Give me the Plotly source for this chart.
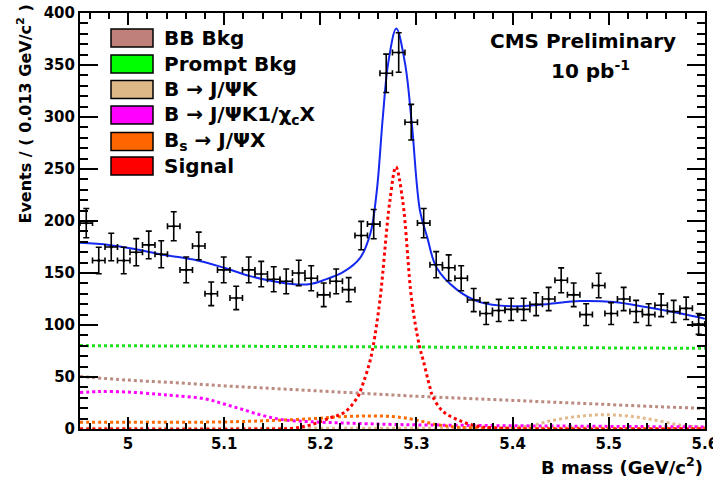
import numpy as np
import plotly.graph_objects as go

# binned data (bin width 0.013 GeV/c2)
bin_centers = [4.9565 + 0.013 * i for i in range(50)]
counts = [198, 162, 175, 162, 170, 177, 168, 195, 153, 176,
          130, 153, 126, 153, 149, 144, 142, 150, 145, 129,
          142, 134, 186, 197, 342, 362, 295, 198, 158, 155,
          145, 124, 111, 114, 115, 115, 120, 125, 143, 129,
          110, 138, 111, 125, 113, 110, 119, 113, 116, 101]

# fit curves
total_x = [4.95, 4.98, 5.007, 5.033, 5.068, 5.10, 5.127, 5.151, 5.175, 5.19,
           5.203, 5.224, 5.241, 5.252, 5.2586, 5.265, 5.2706, 5.279, 5.288, 5.295,
           5.3036, 5.311, 5.321, 5.342, 5.366, 5.40, 5.435, 5.47, 5.505, 5.54,
           5.575, 5.60]
total_y = [179, 177, 173, 168, 163, 155, 147, 142, 139, 139.5,
           143, 151, 164, 188, 228, 300, 352, 385, 352, 295,
           210, 185, 155, 134, 122, 118, 120, 123, 122, 117,
           111, 106]

prompt_x = [4.95, 5.6]
prompt_y = [80.2, 77.6]

bb_x = [4.95, 5.0, 5.05, 5.1, 5.15, 5.2, 5.25, 5.3, 5.35, 5.4, 5.45, 5.5, 5.55, 5.6]
bb_y = [50.5, 47, 44.5, 41.5, 39, 36.5, 34, 31.5, 29.5, 27.5, 25.5, 23.5, 21.5, 19.8]

k1_x = [4.95, 4.97, 5.0, 5.03, 5.05, 5.08, 5.10, 5.12, 5.14, 5.16,
        5.19, 5.23, 5.28, 5.35, 5.45, 5.6]
k1_y = [35, 36, 35.5, 33.5, 32, 29, 24, 18.5, 13, 9,
        7, 5.6, 4.3, 3.5, 2.8, 2]

bs_x = [4.95, 5.0, 5.1, 5.15, 5.19, 5.22, 5.25, 5.275, 5.293, 5.305,
        5.317, 5.33, 5.342, 5.37, 5.45, 5.6]
bs_y = [6.6, 6.6, 6.8, 8.2, 9.8, 11.8, 12.5, 12, 9.8, 7.5,
        5, 3, 1.8, 1, 0.7, 0.5]

jpsik_x = [4.95, 5.3, 5.38, 5.40, 5.42, 5.44, 5.467, 5.494, 5.522, 5.55, 5.577, 5.6]
jpsik_y = [0.8, 0.8, 1, 1.8, 3.4, 8, 12, 13.7, 12.3, 8.2, 3.4, 1.5]

sig_x = [4.95, 5.14, 5.17, 5.19, 5.211, 5.225, 5.239, 5.243, 5.251, 5.255,
         5.262, 5.2724, 5.2786, 5.2856, 5.295, 5.303, 5.307, 5.314, 5.317, 5.3275,
         5.345, 5.362, 5.38, 5.42, 5.6]
sig_y = [0, 0, 0.5, 4, 11, 16, 31, 40, 63, 80,
         124, 220, 252, 220, 124, 80, 66, 40, 31, 17,
         8, 3, 1, 0, 0]

legend_names = ['BB Bkg', 'Prompt Bkg', 'B \u2192 J/\u03a8K',
                'B \u2192 J/\u03a8K1/\u03c7<sub>c</sub>X',
                'B<sub>s</sub> \u2192 J/\u03a8X', 'Signal']
legend_colors = ['#c0807a', '#00ff00', '#deb887', '#ff00ff', '#ff6600', '#ff0000']

font = dict(family='DejaVu Sans', color='black', weight='bold')

fig = go.Figure()

components = [
    (prompt_x, prompt_y, '#1ee01e'),
    (bb_x, bb_y, '#bb8a80'),
    (jpsik_x, jpsik_y, '#e2b98c'),
    (k1_x, k1_y, '#ff00ff'),
    (bs_x, bs_y, '#ff6a00'),
    (sig_x, sig_y, '#ff0000'),
]
for cx, cy, col in components:
    fig.add_trace(go.Scatter(x=cx, y=cy, mode='lines', line_shape='spline',
                             line=dict(color=col, width=3, dash='dot')))

fig.add_trace(go.Scatter(x=total_x, y=total_y, mode='lines', line_shape='spline',
                         line=dict(color='#1428f0', width=2)))

fig.add_trace(go.Scatter(
    x=bin_centers, y=counts, mode='markers',
    marker=dict(color='black', size=3),
    error_y=dict(type='data', array=np.sqrt(counts), color='black', thickness=1.6, width=3),
    error_x=dict(type='constant', value=0.0065, color='black', thickness=1.6, width=3),
))

# page pixel -> paper coords (plot area spans x 80..705, y 13..429)
def py(p):
    return (429 - p) / 416

def px(p):
    return (p - 80) / 625

# legend boxes drawn by hand, ROOT style
rows = [38, 64, 89.5, 115, 141.5, 166]
for name, col, r in zip(legend_names, legend_colors, rows):
    fig.add_shape(type='rect', xref='paper', yref='paper',
                  x0=px(111), x1=px(153), y0=py(r + 9), y1=py(r - 9),
                  fillcolor=col, line=dict(color='black', width=1.5))
    fig.add_annotation(xref='paper', yref='paper', x=px(162), y=py(r),
                       text=name, showarrow=False, xanchor='left', yanchor='middle',
                       font=dict(font, size=20))

fig.add_annotation(xref='paper', yref='paper', x=px(583), y=py(41), text='CMS Preliminary',
                   showarrow=False, xanchor='center', yanchor='middle', font=dict(font, size=20))
fig.add_annotation(xref='paper', yref='paper', x=px(590), y=py(70), text='10 pb<sup>-1</sup>',
                   showarrow=False, xanchor='center', yanchor='middle', font=dict(font, size=20))

fig.add_annotation(xref='paper', yref='paper', x=1.0, y=py(466), text='B mass (GeV/c<sup>2</sup>)',
                   showarrow=False, xanchor='right', yanchor='middle', font=dict(font, size=18))
fig.add_annotation(xref='paper', yref='paper', x=px(25), y=py(3),
                   text='Events / ( 0.013 GeV/c<sup>2</sup> )', textangle=-90,
                   showarrow=False, xanchor='center', yanchor='top', font=dict(font, size=16))

fig.update_xaxes(range=[4.95, 5.6001], tick0=5.0, dtick=0.1, ticks='inside', ticklen=12,
                 tickwidth=1.5, tickcolor='black', showline=True, linecolor='black',
                 linewidth=2, mirror='ticks', showgrid=False, zeroline=False,
                 tickfont=dict(font, size=15), ticklabeloverflow='allow', automargin=False,
                 minor=dict(ticks='inside', ticklen=6, dtick=0.02, tick0=5.0,
                            tickcolor='black', tickwidth=1.5, showgrid=False))
fig.update_yaxes(range=[0, 400], dtick=50, ticks='inside', ticklen=18,
                 tickwidth=1.5, tickcolor='black', showline=True, linecolor='black',
                 linewidth=2, mirror='ticks', showgrid=False, zeroline=False,
                 tickfont=dict(font, size=15), automargin=False,
                 minor=dict(ticks='inside', ticklen=8, dtick=10,
                            tickcolor='black', tickwidth=1.5, showgrid=False))

fig.update_layout(width=713, height=481, margin=dict(l=80, r=8, t=13, b=52),
                  plot_bgcolor='white', paper_bgcolor='white', showlegend=False)

# drop the browser's default 8px body margin so the figure sits at the page corner
fig.write_html("out.html", config={'displayModeBar': False},
               post_script="document.body.style.margin='0';")
